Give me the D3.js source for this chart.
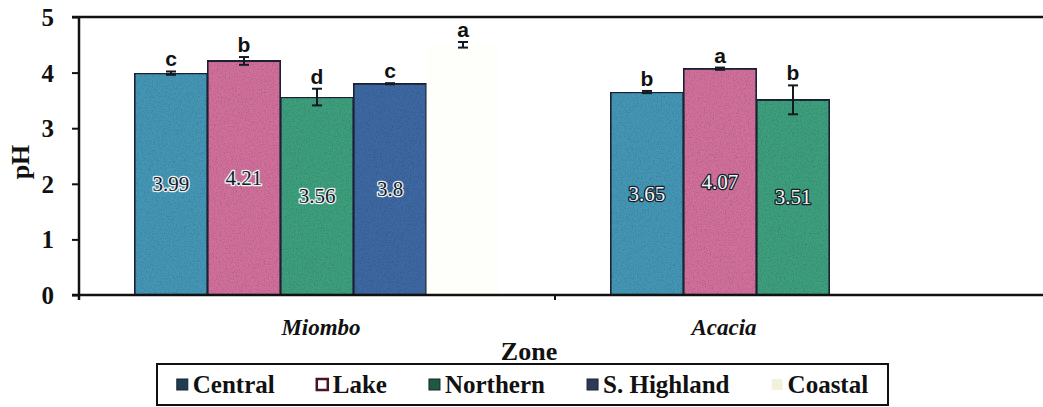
<!DOCTYPE html>
<html>
<head>
<meta charset="utf-8">
<script src="https://cdn.jsdelivr.net/npm/d3@7"></script>
<style>
  html, body { margin: 0; padding: 0; background: #fff; }
  svg { display: block; }
</style>
</head>
<body>
<svg id="chart" width="1043" height="407"></svg>
<script>
// Soil pH by vegetation zone and region
const zones = ["Miombo", "Acacia"];
const regions = ["Central", "Lake", "Northern", "S. Highland", "Coastal"];
const miomboMeans = [3.99, 4.21, 3.56, 3.8, 4.5];
const acaciaMeans = [3.65, 4.07, 3.51, null, null];
const miomboErrors = [0.03, 0.07, 0.15, 0.01, 0.05];
const acaciaErrors = [0.02, 0.02, 0.26, null, null];
const miomboLetters = ["c", "b", "d", "c", "a"];
const acaciaLetters = ["b", "a", "b", null, null];
const labelledRegions = ["Central", "Lake", "Northern", "S. Highland"];
const yTicks = [0, 1, 2, 3, 4, 5];

const SERIF = "'Liberation Serif'";
const SANS = "'Liberation Sans'";

const barFill = {
  "Central": "#4596b5",
  "Lake": "#d06f9b",
  "Northern": "#3e9f7d",
  "S. Highland": "#3e68a2",
  "Coastal": "#fefefb"
};
const swatchFill = {
  "Central": "#1d3d52",
  "Lake": "#ffffff",
  "Northern": "#1f5a40",
  "S. Highland": "#2c3b55",
  "Coastal": "#f2f2dc"
};
// value label ink / halo per zone
const labelInk = { "Miombo": "#12202c", "Acacia": "#f2f4f4" };
const labelHalo = { "Miombo": "#eef2f2", "Acacia": "#14202a" };

const rows = [];
zones.forEach((zone, zi) => {
  const means = zi === 0 ? miomboMeans : acaciaMeans;
  const errs = zi === 0 ? miomboErrors : acaciaErrors;
  const letters = zi === 0 ? miomboLetters : acaciaLetters;
  regions.forEach((region, ri) => {
    if (means[ri] == null) return;
    rows.push({ zone, region, value: means[ri], err: errs[ri], letter: letters[ri] });
  });
});

const svg = d3.select("#chart");
const plot = { left: 79, right: 1031, top: 17, bottom: 295 };

const y = d3.scaleLinear().domain([0, 5]).range([plot.bottom, plot.top]);
const x0 = d3.scaleBand().domain(zones).range([plot.left, plot.right]).padding(0);
const x1 = d3.scaleBand().domain(regions).range([0, x0.bandwidth()])
  .paddingInner(0).paddingOuter(0.76);
const cx = d => x0(d.zone) + x1(d.region) + x1.bandwidth() / 2;

// speckled print texture on the bars
const defs = svg.append("defs");
const grain = defs.append("filter").attr("id", "grain")
  .attr("x", 0).attr("y", 0).attr("width", 1).attr("height", 1);
grain.append("feTurbulence").attr("type", "fractalNoise")
  .attr("baseFrequency", 0.75).attr("numOctaves", 2).attr("seed", 4).attr("result", "noise");
grain.append("feColorMatrix").attr("in", "noise").attr("type", "matrix")
  .attr("values", "0 0 0 0 0  0 0 0 0 0  0 0 0 0 0  0 0 0 -2.2 1.25")
  .attr("result", "dots");
grain.append("feComposite").attr("in", "dots").attr("in2", "SourceGraphic")
  .attr("operator", "in").attr("result", "dotsIn");
grain.append("feComponentTransfer").attr("in", "dotsIn").attr("result", "dotsSoft")
  .append("feFuncA").attr("type", "linear").attr("slope", 0.35);
const merge = grain.append("feMerge");
merge.append("feMergeNode").attr("in", "SourceGraphic");
merge.append("feMergeNode").attr("in", "dotsSoft");

// top frame line
svg.append("line")
  .attr("x1", plot.left - 7).attr("x2", 1043)
  .attr("y1", plot.top).attr("y2", plot.top)
  .attr("stroke", "#111").attr("stroke-width", 2.5);

// bars
svg.append("g").selectAll("rect").data(rows).join("rect")
  .attr("x", d => x0(d.zone) + x1(d.region))
  .attr("y", d => y(d.value))
  .attr("width", x1.bandwidth())
  .attr("height", d => y(0) - y(d.value))
  .attr("fill", d => barFill[d.region])
  .attr("stroke", d => d.region === "Coastal" ? "none" : "#1b2434")
  .attr("stroke-width", 2.2)
  .attr("filter", d => d.region === "Coastal" ? null : "url(#grain)");

// error bars
const errG = svg.append("g").attr("stroke", "#141a22").attr("stroke-width", 2);
rows.forEach(d => {
  const top = y(d.value + d.err), bot = y(d.value - d.err);
  errG.append("line").attr("x1", cx(d)).attr("x2", cx(d)).attr("y1", top).attr("y2", bot);
  errG.append("line").attr("x1", cx(d) - 5).attr("x2", cx(d) + 5).attr("y1", top).attr("y2", top);
  errG.append("line").attr("x1", cx(d) - 5).attr("x2", cx(d) + 5).attr("y1", bot).attr("y2", bot);
});

// significance letters
svg.append("g").selectAll("text").data(rows.filter(d => d.letter)).join("text")
  .attr("x", cx)
  .attr("y", d => y(d.value + d.err) - 5)
  .attr("text-anchor", "middle")
  .style("font-family", SANS)
  .style("font-weight", "bold").style("font-size", "21px")
  .style("fill", "#111")
  .text(d => d.letter);

// values inside bars: halo layer first, ink layer on top
const valueRows = rows.filter(d => labelledRegions.includes(d.region));
["halo", "ink"].forEach(layer => {
  svg.append("g").selectAll("text").data(valueRows).join("text")
    .attr("x", cx)
    .attr("y", d => (y(d.value) + y(0)) / 2 + 7)
    .attr("text-anchor", "middle")
    .style("font-family", SERIF)
    .style("font-size", "21px")
    .style("fill", d => layer === "ink" ? labelInk[d.zone] : labelHalo[d.zone])
    .style("stroke", d => layer === "ink" ? "none" : labelHalo[d.zone])
    .style("stroke-width", layer === "ink" ? "0" : "2.6px")
    .style("stroke-linejoin", "round")
    .text(d => String(d.value));
});

// y axis
const yAxis = svg.append("g")
  .attr("transform", `translate(${plot.left},0)`)
  .call(d3.axisLeft(y).tickValues(yTicks).tickFormat(d3.format("d"))
    .tickSize(7).tickPadding(18).tickSizeOuter(0));
yAxis.select(".domain").attr("stroke", "#111").attr("stroke-width", 2.5)
  .attr("d", `M0,${plot.top}V${plot.bottom + 5}`);
yAxis.selectAll(".tick line").attr("stroke", "#111").attr("stroke-width", 2);
yAxis.selectAll(".tick text")
  .style("font-family", SERIF)
  .style("font-weight", "bold").style("font-size", "25px").style("fill", "#111")
  .attr("dy", "0.34em");

// x axis baseline and category dividers
const xg = svg.append("g");
xg.append("line")
  .attr("x1", plot.left - 7).attr("x2", 1043)
  .attr("y1", plot.bottom).attr("y2", plot.bottom)
  .attr("stroke", "#111").attr("stroke-width", 2.5);
xg.selectAll("line.div").data(zones.slice(1)).join("line").attr("class", "div")
  .attr("x1", d => x0(d)).attr("x2", d => x0(d))
  .attr("y1", plot.bottom).attr("y2", plot.bottom + 5)
  .attr("stroke", "#111").attr("stroke-width", 2);

// zone labels centred under their bars
xg.selectAll("text.zone").data(zones).join("text").attr("class", "zone")
  .attr("x", z => {
    const r = rows.filter(d => d.zone === z);
    const a = d3.min(r, d => x0(z) + x1(d.region));
    const b = d3.max(r, d => x0(z) + x1(d.region) + x1.bandwidth());
    return (a + b) / 2 + 4;
  })
  .attr("y", 335)
  .attr("text-anchor", "middle")
  .style("font-family", SERIF)
  .style("font-weight", "bold").style("font-style", "italic").style("font-size", "23px")
  .style("fill", "#111")
  .text(z => z);

// axis titles
svg.append("text")
  .attr("x", 529).attr("y", 360)
  .attr("text-anchor", "middle")
  .style("font-family", SERIF)
  .style("font-weight", "bold").style("font-size", "26px").style("fill", "#111")
  .text("Zone");
svg.append("text")
  .attr("transform", "translate(29,162) rotate(-90)")
  .attr("text-anchor", "middle")
  .style("font-family", SERIF)
  .style("font-weight", "bold").style("font-size", "26px").style("fill", "#111")
  .text("pH");

// legend
const legend = { x: 157, y: 364, w: 731, h: 41 };
svg.append("rect")
  .attr("x", legend.x).attr("y", legend.y).attr("width", legend.w).attr("height", legend.h)
  .attr("fill", "#fff").attr("stroke", "#111").attr("stroke-width", 2);
const itemG = svg.append("g").selectAll("g").data(regions).join("g");
itemG.append("rect")
  .attr("width", 11).attr("height", 11).attr("y", -14)
  .attr("fill", d => swatchFill[d])
  .attr("stroke", d => d === "Lake" ? "#4a1422" : (d === "Coastal" ? "none" : "#1a2230"))
  .attr("stroke-width", d => d === "Lake" ? 2.5 : 1);
itemG.append("text")
  .attr("x", 16)
  .style("font-family", SERIF)
  .style("font-weight", "bold").style("font-size", "25px").style("fill", "#111")
  .text(d => d);
const gap = 42;
const widths = [];
itemG.each(function () { widths.push(this.getBBox().width); });
const total = d3.sum(widths) + gap * (widths.length - 1);
let cursor = legend.x + (legend.w - total) / 2;
itemG.attr("transform", (d, i) => {
  const t = `translate(${cursor},${legend.y + 29})`;
  cursor += widths[i] + gap;
  return t;
});
</script>
</body>
</html>
